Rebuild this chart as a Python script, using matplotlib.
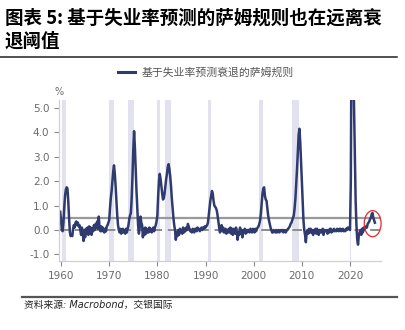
import numpy as np
import matplotlib
matplotlib.use("Agg")
import matplotlib.pyplot as plt
from matplotlib.patches import Ellipse

plt.rcParams['font.family'] = ['DejaVu Sans', 'Noto Sans CJK SC']

# Real-time Sahm rule indicator, bi-monthly readings from Nov 1959 (pp)
start_year = 1959 + 5 / 6
sahm = [0.75,
        0.4, 0.0, -0.05, 0.3, 0.9, 1.4,          # 1960
        1.65, 1.75, 1.7, 1.2, 0.5, -0.1,         # 1961
        -0.25, -0.2, -0.25, 0.05, 0.2, 0.1,      # 1962
        0.3, 0.35, 0.2, 0.3, 0.15, 0.2,          # 1963
        0.0, -0.2, 0.1, -0.1, -0.45, 0.0,        # 1964
        -0.3, 0.05, -0.15, 0.1, -0.2, 0.15,      # 1965
        -0.1, 0.1, -0.2, 0.05, -0.05, 0.2,       # 1966
        0.0, 0.25, 0.1, 0.35, 0.05, 0.55,        # 1967
        0.1, -0.05, 0.15, -0.05, 0.1, 0.0,       # 1968
        -0.1, 0.05, -0.05, 0.15, 0.2, 0.3,       # 1969
        0.4, 0.9, 1.3, 1.6, 2.0, 2.4,            # 1970
        2.65, 2.3, 1.8, 1.2, 0.6, 0.2,           # 1971
        0.0, -0.1, 0.05, -0.15, -0.05, 0.05,     # 1972
        -0.1, 0.0, -0.15, 0.05, -0.1, 0.05,      # 1973
        0.2, 0.45, 0.6, 0.7, 1.3, 2.2,           # 1974
        3.3, 4.05, 3.4, 2.5, 1.6, 0.9,           # 1975
        0.2, -0.15, 0.1, 0.55, 0.3, 0.2,         # 1976
        -0.3, 0.05, -0.2, 0.1, -0.15, 0.05,      # 1977
        0.0, -0.1, 0.1, -0.05, 0.05, -0.1,       # 1978
        0.0, 0.1, -0.05, 0.1, 0.2, 0.35,         # 1979
        0.6, 1.4, 2.0, 2.3, 2.1, 1.8,            # 1980
        1.5, 1.25, 1.3, 1.5, 1.8, 2.1,           # 1981
        2.3, 2.6, 2.7, 2.5, 2.2, 1.8,            # 1982
        1.3, 0.9, 0.5, 0.2, 0.0, -0.4,           # 1983
        -0.1, -0.25, 0.0, -0.2, 0.05, -0.1,      # 1984
        0.0, -0.15, 0.1, -0.1, 0.05, -0.05,      # 1985
        0.1, 0.0, 0.25, 0.15, 0.05, -0.05,       # 1986
        0.0, -0.1, 0.05, -0.05, -0.1, 0.05,      # 1987
        0.05, -0.05, 0.1, 0.0, 0.05, -0.05,      # 1988
        0.05, 0.1, 0.0, 0.1, 0.05, 0.15,         # 1989
        0.1, 0.15, 0.2, 0.3, 0.6, 0.9,           # 1990
        1.2, 1.4, 1.6, 1.5, 1.2, 1.0,            # 1991
        0.95, 0.9, 0.8, 0.6, 0.35, 0.1,          # 1992
        -0.1, 0.1, 0.2, -0.05, 0.1, -0.1,        # 1993
        -0.1, 0.05, -0.15, 0.0, -0.1, 0.05,      # 1994
        -0.1, 0.1, -0.15, 0.05, -0.2, 0.05,      # 1995
        0.0, -0.15, 0.1, -0.1, -0.4, -0.1,       # 1996
        -0.2, 0.1, -0.15, 0.0, -0.3, 0.0,        # 1997
        -0.1, 0.05, -0.15, 0.0, -0.1, 0.0,       # 1998
        0.0, -0.1, 0.05, -0.05, -0.1, 0.05,      # 1999
        0.0, -0.1, 0.05, -0.05, 0.05, 0.1,       # 2000
        0.15, 0.25, 0.4, 0.7, 1.1, 1.5,          # 2001
        1.7, 1.75, 1.4, 1.25, 1.2, 0.9,          # 2002
        0.6, 0.4, 0.25, 0.1, 0.0, -0.1,          # 2003
        -0.1, 0.0, -0.05, -0.1, 0.0, -0.1,       # 2004
        -0.05, 0.0, -0.1, -0.05, 0.0, -0.05,     # 2005
        0.0, -0.1, 0.0, -0.05, -0.1, 0.0,        # 2006
        0.0, 0.05, 0.1, 0.15, 0.25, 0.3,         # 2007
        0.4, 0.5, 0.6, 0.9, 1.3, 1.9,            # 2008
        2.5, 3.2, 3.9, 4.15, 3.6, 2.8,           # 2009
        1.9, 1.1, 0.4, 0.0, -0.2, -0.5,          # 2010
        -0.1, 0.0, -0.15, 0.05, -0.1, 0.05,      # 2011
        -0.1, 0.0, -0.2, 0.0, -0.1, 0.05,        # 2012
        -0.15, 0.05, -0.1, -0.2, 0.0, -0.1,      # 2013
        0.0, -0.1, 0.05, -0.2, 0.0, -0.05,       # 2014
        -0.05, 0.0, -0.15, 0.0, -0.1, 0.05,      # 2015
        0.05, -0.1, 0.0, -0.05, 0.05, -0.05,     # 2016
        0.0, -0.05, 0.05, 0.0, -0.05, 0.05,      # 2017
        0.05, -0.05, 0.0, 0.05, -0.05, 0.0,      # 2018
        -0.05, 0.05, 0.0, 0.1, 0.05, 0.1,        # 2019
        0.0, 2.0, 9.0, 8.5, 7.0, 5.0,            # 2020
        3.0, 1.2, 0.2, -0.4, -0.6, -0.2,         # 2021
        -0.1, 0.0, -0.2, 0.05, -0.1, 0.1,        # 2022
        0.0, 0.1, 0.15, 0.1, 0.25, 0.3,          # 2023
        0.35, 0.45, 0.5, 0.65, 0.7, 0.5,         # 2024
        0.4, 0.3]                                # 2025

# NBER recessions (decimal years)
recessions = [(1960.3, 1961.1), (1969.9, 1970.9), (1973.9, 1975.2),
              (1980.0, 1980.5), (1981.5, 1982.9), (1990.5, 1991.2),
              (2001.2, 2001.9), (2007.9, 2009.5), (2020.1, 2020.3)]

threshold = 0.5
year_ticks = [1960, 1970, 1980, 1990, 2000, 2010, 2020]
value_ticks = [-1.0, 0.0, 1.0, 2.0, 3.0, 4.0, 5.0]

t = start_year + np.arange(len(sahm)) / 6

fig = plt.figure(figsize=(4.05, 3.30), dpi=100)
ax = fig.add_axes([0.1457, 0.2091, 0.795, 0.488])

for a, b in recessions:
    ax.axvspan(a, b, color='#e2e2ef', lw=0, zorder=0)

ax.axhline(threshold, color='#9a9a9a', lw=1.6, zorder=1)
ax.axhline(0.0, color='#8c8c8c', lw=1.4, ls=(0, (5, 3)), zorder=1)
ax.plot(t, sahm, color='#2f3a6e', lw=1.8, zorder=2,
        label='基于失业率预测衰退的萨姆规则')

ax.add_patch(Ellipse((2024.7, 0.26), 3.5, 1.07, fill=False,
                     edgecolor='#e8262b', lw=0.9, clip_on=False, zorder=3))

ax.set_xlim(1959.58, 2026.43)
ax.set_ylim(-1.27, 5.33)
ax.set_xticks(year_ticks)
ax.set_yticks(value_ticks)
ax.set_yticklabels(['%.1f' % v for v in value_ticks])
ax.tick_params(colors='#8a8a8a', labelcolor='#6a6a6a', labelsize=7.5,
               length=3.5, width=0.8)

for s in ['top', 'right']:
    ax.spines[s].set_visible(False)
for s in ['left', 'bottom']:
    ax.spines[s].set_color('#d0d0d0')
    ax.spines[s].set_linewidth(0.9)

ax.text(1959.6, 5.55, '%', fontsize=7, color='#6a6a6a', ha='center')

leg = ax.legend(loc='center', bbox_to_anchor=(0.456, 1.168), frameon=False,
                handlelength=1.6, handletextpad=0.6, labelcolor='#555555',
                prop={'family': ['Noto Sans CJK SC'], 'size': 7.8})
leg.get_lines()[0].set_linewidth(2.2)

# header and footer
fig.text(0.012, 0.945, '图表 5: 基于失业率预测的萨姆规则也在远离衰',
         fontsize=13.3, fontweight='bold', family=['Noto Sans CJK SC'],
         va='center')
fig.text(0.012, 0.875, '退阈值', fontsize=13.3, fontweight='bold',
         family=['Noto Sans CJK SC'], va='center')
fig.add_artist(plt.Line2D([0.0, 0.98], [0.828, 0.828], color='#222222', lw=1.1))
fig.add_artist(plt.Line2D([0.055, 0.98], [0.10, 0.10], color='#555555', lw=1.6))
fig.text(0.06, 0.075, '资料来源: Macrobond，交银国际', fontsize=7,
         fontstyle='italic', va='center', color='#222222')

fig.savefig('out.png', dpi=100)
